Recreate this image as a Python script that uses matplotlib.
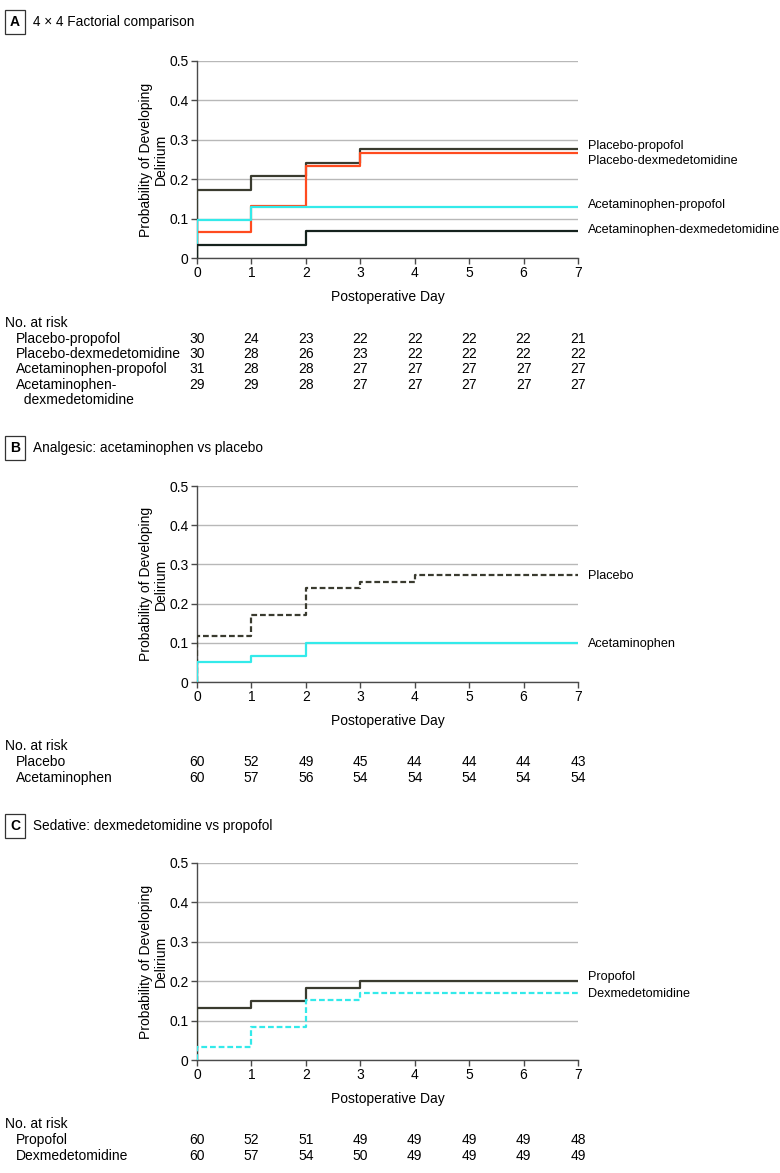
import matplotlib
matplotlib.use('Agg')
import matplotlib.pyplot as plt
import matplotlib.transforms as mtransforms

plt.rcParams['font.family'] = ['Liberation Sans', 'DejaVu Sans']
plt.rcParams['font.size'] = 10

# 数据
days = [0, 1, 2, 3, 4, 5, 6, 7]

# A: 4 x 4 factorial
a_names = ['Placebo-propofol', 'Placebo-dexmedetomidine',
           'Acetaminophen-propofol', 'Acetaminophen-dexmedetomidine']
a_step_days = [[0, 1, 2, 3], [0, 1, 2, 3], [0, 1], [0, 2]]
a_probs = [[0.173, 0.207, 0.241, 0.276],
           [0.067, 0.133, 0.233, 0.266],
           [0.097, 0.129],
           [0.034, 0.069]]
a_risk_names = ['Placebo-propofol', 'Placebo-dexmedetomidine',
                'Acetaminophen-propofol', 'Acetaminophen-\n  dexmedetomidine']
a_risk = [[30, 24, 23, 22, 22, 22, 22, 21],
          [30, 28, 26, 23, 22, 22, 22, 22],
          [31, 28, 28, 27, 27, 27, 27, 27],
          [29, 29, 28, 27, 27, 27, 27, 27]]

# B: analgesic
b_names = ['Placebo', 'Acetaminophen']
b_step_days = [[0, 1, 2, 3, 4], [0, 1, 2]]
b_probs = [[0.117, 0.170, 0.240, 0.255, 0.273],
           [0.050, 0.067, 0.100]]
b_risk = [[60, 52, 49, 45, 44, 44, 44, 43],
          [60, 57, 56, 54, 54, 54, 54, 54]]

# C: sedative
c_names = ['Propofol', 'Dexmedetomidine']
c_step_days = [[0, 1, 2, 3], [0, 1, 2, 3]]
c_probs = [[0.133, 0.150, 0.183, 0.200],
           [0.033, 0.083, 0.153, 0.169]]
c_risk = [[60, 52, 51, 49, 49, 49, 49, 48],
          [60, 57, 54, 50, 49, 49, 49, 49]]

DARK = '#3a3b2f'
DARK2 = '#15221d'
ORANGE = '#ff4b1f'
CYAN = '#33eaea'
SOLID = '-'
DASH = (0, (2.6, 1.3))

W, H = 780, 1173
fig = plt.figure(figsize=(W / 100, H / 100), dpi=100)


def make_axes(y0, y_top):
    left, right = 197, 578
    return fig.add_axes([left / W, 1 - y0 / H, (right - left) / W, (y0 - y_top) / H])


def draw_panel(ax, step_days, probs, colors, styles, names, label_y):
    for d, p, c, s, n, ly in zip(step_days, probs, colors, styles, names, label_y):
        x = [0] + d + [7]
        y = [0] + p + [p[-1]]
        ax.step(x, y, where='post', color=c, lw=1.6, linestyle=s, zorder=3)
        ax.text(7.19, ly, n, va='center', ha='left', fontsize=9.1, clip_on=False)
    ax.set_xlim(0, 7)
    ax.set_ylim(0, 0.5)
    ax.set_xticks(days)
    ax.set_yticks([0, 0.1, 0.2, 0.3, 0.4, 0.5])
    ax.set_yticklabels(['0', '0.1', '0.2', '0.3', '0.4', '0.5'])
    ax.grid(axis='y', color='#b8b8b8', lw=1.0)
    ax.set_axisbelow(True)
    for s in ['top', 'right']:
        ax.spines[s].set_visible(False)
    for s in ['left', 'bottom']:
        ax.spines[s].set_color('#4a4a4a')
        ax.spines[s].set_linewidth(1.0)
    ax.tick_params(axis='both', colors='#4a4a4a', labelcolor='black', length=4, width=1.0,
                   labelsize=10, pad=2)
    ax.set_xlabel('Postoperative Day', fontsize=10, labelpad=7)
    ax.set_ylabel('Probability of Developing\nDelirium', fontsize=10, labelpad=1,
                  linespacing=1.05)


def risk_table(ax, y_head, rows_y, names, risk):
    trans = mtransforms.blended_transform_factory(ax.transData, fig.transFigure)
    fig.text(5 / W, 1 - y_head / H, 'No. at risk', va='center', ha='left', fontsize=10)
    for ry, n, r in zip(rows_y, names, risk):
        for i, line in enumerate(n.split('\n')):
            fig.text(16 / W, 1 - (ry + 15 * i) / H, line, va='center', ha='left', fontsize=10)
        for d, v in zip(days, r):
            ax.text(d, 1 - ry / H, str(v), transform=trans, va='center', ha='center',
                    fontsize=10, clip_on=False)


def panel_title(y, letter, text):
    fig.text(10 / W, 1 - y / H, letter, fontsize=10, fontweight='bold', va='center', ha='left',
             bbox=dict(boxstyle='square,pad=0.35', fc='white', ec='#333333', lw=0.9))
    fig.text(33 / W, 1 - y / H, text, fontsize=9.8, va='center', ha='left')


# A
panel_title(22, 'A', '4 × 4 Factorial comparison')
axA = make_axes(258, 61)
draw_panel(axA, a_step_days, a_probs, [DARK, ORANGE, CYAN, DARK2], [SOLID] * 4, a_names,
           [0.284, 0.246, 0.134, 0.071])
risk_table(axA, 323, [339, 354, 369, 385], a_risk_names, a_risk)

# B
panel_title(448, 'B', 'Analgesic: acetaminophen vs placebo')
axB = make_axes(682, 486)
draw_panel(axB, b_step_days, b_probs, [DARK, CYAN], [DASH, SOLID], b_names, [0.271, 0.096])
risk_table(axB, 746, [762, 778], b_names, b_risk)

# C
panel_title(826, 'C', 'Sedative: dexmedetomidine vs propofol')
axC = make_axes(1060, 863)
draw_panel(axC, c_step_days, c_probs, [DARK, CYAN], [SOLID, DASH], c_names, [0.211, 0.168])
risk_table(axC, 1124, [1140, 1156], c_names, c_risk)

fig.savefig('out.png', dpi=100)
